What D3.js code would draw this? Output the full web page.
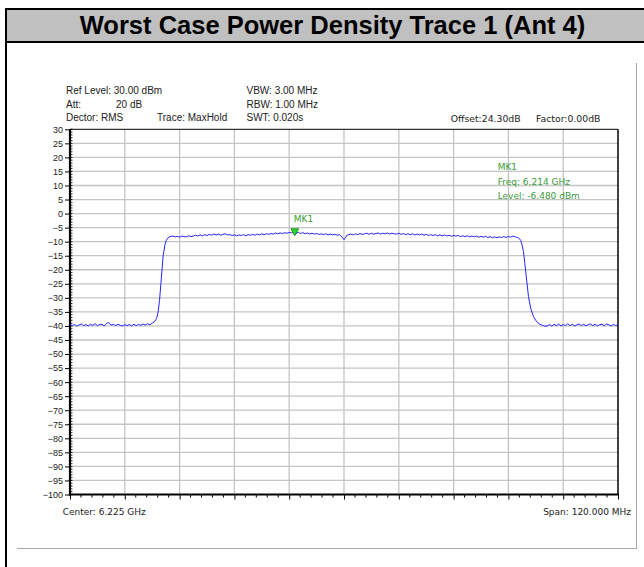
<!DOCTYPE html>
<html>
<head>
<meta charset="utf-8">
<script src="https://cdn.jsdelivr.net/npm/d3@7"></script>
<style>
  html, body { margin: 0; padding: 0; background: #fff; }
  svg { display: block; }
</style>
</head>
<body>
<svg id="chart" width="644" height="567"></svg>
<script>
// ---------------- DATA ----------------
const titleText = "Worst Case Power Density Trace 1 (Ant 4)";
const startMHz = 6165;          // Center 6.225 GHz, span 120 MHz
const stopMHz = 6285;
const yTicks = [30,25,20,15,10,5,0,-5,-10,-15,-20,-25,-30,-35,-40,-45,-50,-55,-60,-65,-70,-75,-80,-85,-90,-95,-100];
const headerLeft = [["Ref Level: 30.00 dBm", null], ["Att:", "20 dB"], ["Dector: RMS", null]];
const headerMid = ["VBW: 3.00 MHz", "RBW: 1.00 MHz", "SWT: 0.020s"];
const traceLabel = "Trace: MaxHold";
const offsetText = "Offset:24.30dB";
const factorText = "Factor:0.00dB";
const centerText = "Center: 6.225 GHz";
const spanText = "Span: 120.000 MHz";
const markerName = "MK1";
const markerFreqMHz = 6214;     // 6.214 GHz
const markerLevel = -6.48;
const markerInfo = ["MK1", "Freq: 6.214 GHz", "Level: -6.480 dBm"];

// sweep sampled every 0.5 MHz (offset from start)
const sweepStep = 0.5;
const leftNoiseStart = 0;
const leftNoise = [-39.4,-39.9,-39.5,-40.1,-39.6,-39.3,-39.9,-39.5,-40.0,-39.4,
  -39.8,-39.2,-39.9,-39.5,-39.4,-40.0,-39.1,-38.8,-39.7,-39.4,
  -39.9,-39.4,-39.8,-40.0,-39.5,-39.9,-39.5,-40.0,-39.4,-39.9,
  -39.4,-39.8,-39.3,-39.7,-39.2,-39.6,-39.0];
const riseEdge = [[18.4,-38.6],[18.8,-37.8],[19.1,-36.5],[19.3,-35.0],[19.6,-31.0],[19.9,-25.0],
  [20.2,-19.0],[20.4,-15.0],[20.8,-11.0],[21.1,-9.5],[21.5,-8.6],[21.9,-8.2]];
const topLeftStart = 22.5;
const topLeft = [-8.0,-8.3,-8.1,-8.4,-8.0,-8.2,-8.3,-7.9,-8.2,-8.0,
  -7.7,-8.0,-7.6,-7.9,-7.5,-7.8,-7.4,-7.7,-7.3,-7.6,
  -7.3,-7.7,-7.4,-7.2,-7.6,-7.5,-7.8,-7.6,-7.9,-7.6,
  -7.8,-7.5,-7.9,-7.5,-7.7,-7.4,-7.7,-7.3,-7.6,-7.2,
  -7.5,-7.2,-7.4,-7.1,-7.3,-6.9,-7.2,-6.9,-7.1,-6.8,
  -7.0,-6.7,-6.9,-6.48,-7.0,-6.7,-7.1,-6.8,-7.2,-6.9,
  -7.3,-7.0,-7.3,-7.1,-7.4,-7.2,-7.5,-7.2,-7.6,-7.3,
  -7.6,-7.4,-7.7,-7.5];
const centerDip = [[59.4,-8.0],[59.8,-8.9],[60.0,-9.3],[60.3,-8.6],[60.6,-7.8],[61.0,-7.5]];
const topRightStart = 61.5;
const topRight = [-7.3,-7.6,-7.2,-7.5,-7.1,-7.4,-7.2,-7.0,-7.4,-7.0,
  -7.3,-7.1,-6.9,-7.3,-7.0,-7.2,-6.9,-7.3,-7.0,-7.2,
  -7.3,-7.0,-7.4,-7.1,-7.5,-7.2,-7.5,-7.2,-7.6,-7.3,
  -7.6,-7.3,-7.7,-7.4,-7.8,-7.5,-7.8,-7.5,-7.9,-7.6,
  -7.9,-7.6,-8.0,-7.7,-8.1,-7.8,-8.0,-7.8,-8.2,-7.9,
  -8.2,-7.9,-8.3,-8.0,-8.3,-8.0,-8.4,-8.1,-8.4,-8.1,
  -8.5,-8.2,-8.6,-8.3,-8.6,-8.3,-8.5,-8.2,-8.5,-8.1,
  -8.4,-8.0,-8.3,-8.5];
const fallEdge = [[98.4,-8.9],[98.7,-9.6],[99.0,-11.2],[99.3,-13.5],[99.6,-17.7],[100.0,-23.7],
  [100.4,-29.6],[100.9,-33.8],[101.5,-36.7],[102.2,-38.5],[102.9,-39.4],[103.5,-39.8],[104.0,-40.1]];
const rightNoiseStart = 104.5;
const rightNoise = [-40.0,-39.5,-40.1,-39.4,-39.9,-39.3,-40.0,-39.5,-39.9,-39.2,
  -39.9,-39.4,-40.0,-39.6,-39.3,-39.9,-39.4,-40.0,-39.5,-39.3,
  -39.9,-39.4,-40.0,-39.5,-39.4,-39.9,-39.3,-39.6,-40.0,-39.4,
  -39.9,-39.5];

// ---------------- BUILD TRACE ----------------
function sweep(start, vals) { return vals.map((v, i) => [start + i * sweepStep, v]); }
const trace = [].concat(
  sweep(leftNoiseStart, leftNoise), riseEdge, sweep(topLeftStart, topLeft),
  centerDip, sweep(topRightStart, topRight), fallEdge, sweep(rightNoiseStart, rightNoise)
).map(d => ({ f: startMHz + d[0], v: d[1] }));

// ---------------- LAYOUT ----------------
const svg = d3.select("#chart");
const L = 70, R = 618, T = 129.3, B = 494.5;
const x = d3.scaleLinear().domain([startMHz, stopMHz]).range([L, R]);
const y = d3.scaleLinear().domain([-100, 30]).range([B, T]);

svg.append("rect").attr("width", 644).attr("height", 567).attr("fill", "#fff");

// outer frame + title bar
svg.append("rect").attr("x", 6).attr("y", 9).attr("width", 640).attr("height", 33).attr("fill", "#c0c0c0");
svg.append("line").attr("x1", 5).attr("x2", 644).attr("y1", 9).attr("y2", 9).attr("stroke", "#000").attr("stroke-width", 2);
svg.append("line").attr("x1", 5).attr("x2", 644).attr("y1", 42).attr("y2", 42).attr("stroke", "#000").attr("stroke-width", 2);
svg.append("line").attr("x1", 6).attr("x2", 6).attr("y1", 8).attr("y2", 567).attr("stroke", "#000").attr("stroke-width", 2);
svg.append("text").attr("x", 332.5).attr("y", 33.5).attr("text-anchor", "middle")
  .attr("font-family", "Liberation Sans, Arial, sans-serif").attr("font-weight", "bold")
  .attr("font-size", "25.5px").attr("fill", "#000").text(titleText);

// gray panel frame lines
svg.append("line").attr("x1", 636.5).attr("x2", 636.5).attr("y1", 63).attr("y2", 549).attr("stroke", "#a8a8a8").attr("stroke-width", 1);
svg.append("line").attr("x1", 17).attr("x2", 637).attr("y1", 548.5).attr("y2", 548.5).attr("stroke", "#a8a8a8").attr("stroke-width", 1);

// header texts
const hdrFont = "Liberation Sans, Arial, sans-serif";
const rowsY = [94, 107.5, 121];
headerLeft.forEach((r, i) => {
  svg.append("text").attr("x", 66).attr("y", rowsY[i]).attr("font-family", hdrFont).attr("font-size", "10px").attr("fill", "#222").text(r[0]);
  if (r[1]) svg.append("text").attr("x", 116).attr("y", rowsY[i]).attr("font-family", hdrFont).attr("font-size", "10px").attr("fill", "#222").text(r[1]);
});
svg.append("text").attr("x", 157).attr("y", rowsY[2]).attr("font-family", hdrFont).attr("font-size", "10px").attr("fill", "#222").text(traceLabel);
headerMid.forEach((t, i) => {
  svg.append("text").attr("x", 246.5).attr("y", rowsY[i]).attr("font-family", hdrFont).attr("font-size", "10px").attr("fill", "#222").text(t);
});
const smallFont = "DejaVu Sans, Verdana, sans-serif";
svg.append("text").attr("x", 450.7).attr("y", 121.5).attr("font-family", smallFont).attr("font-size", "9.3px").attr("fill", "#222").text(offsetText);
svg.append("text").attr("x", 536).attr("y", 121.5).attr("font-family", smallFont).attr("font-size", "9.3px").attr("fill", "#222").text(factorText);

// grid
const grid = svg.append("g");
grid.selectAll("line.h").data(yTicks.filter(t => t > -100 && t < 30)).join("line")
  .attr("x1", L).attr("x2", R).attr("y1", d => y(d)).attr("y2", d => y(d))
  .attr("stroke", "#c4c4c4").attr("stroke-width", 1.3);
const xMajor = d3.range(1, 10).map(i => startMHz + i * 12);
grid.selectAll("line.v").data(xMajor).join("line")
  .attr("x1", d => x(d)).attr("x2", d => x(d)).attr("y1", T).attr("y2", B)
  .attr("stroke", "#c4c4c4").attr("stroke-width", 1.3);

// plot border
svg.append("line").attr("x1", L).attr("x2", R).attr("y1", T).attr("y2", T).attr("stroke", "#000").attr("stroke-width", 1);
svg.append("line").attr("x1", R).attr("x2", R).attr("y1", T).attr("y2", B).attr("stroke", "#000").attr("stroke-width", 1.5);

// y axis
const yAxis = d3.axisLeft(y).tickValues(yTicks).tickSize(5).tickPadding(2).tickFormat(d3.format("d"));
const gy = svg.append("g").attr("transform", `translate(${L},0)`).call(yAxis);
gy.select(".domain").remove();
gy.selectAll("text").attr("font-family", hdrFont).attr("font-size", "9px").attr("fill", "#222");
gy.selectAll("line").attr("stroke", "#000");
const yMinor = d3.range(-100, 31, 1);
svg.append("g").selectAll("line").data(yMinor).join("line")
  .attr("x1", L).attr("x2", L + 2.5).attr("y1", d => y(d)).attr("y2", d => y(d))
  .attr("stroke", "#000").attr("stroke-width", 0.8);
svg.append("line").attr("x1", L).attr("x2", L).attr("y1", T).attr("y2", B + 1).attr("stroke", "#000").attr("stroke-width", 2.2);

// x axis (ticks only)
const xAxis = d3.axisBottom(x).tickValues(d3.range(0, 11).map(i => startMHz + i * 12)).tickSize(5).tickFormat("");
const gx = svg.append("g").attr("transform", `translate(0,${B})`).call(xAxis);
gx.select(".domain").remove();
gx.selectAll("line").attr("stroke", "#000");
const xMinor = d3.range(0, 51).map(i => startMHz + i * 2.4).filter((d, i) => i % 5 !== 0);
svg.append("g").selectAll("line").data(xMinor).join("line")
  .attr("x1", d => x(d)).attr("x2", d => x(d)).attr("y1", B).attr("y2", B + 3)
  .attr("stroke", "#000").attr("stroke-width", 1);
svg.append("line").attr("x1", L - 1).attr("x2", R + 1).attr("y1", B).attr("y2", B).attr("stroke", "#000").attr("stroke-width", 2);

svg.append("text").attr("x", 62.7).attr("y", 514.5).attr("font-family", smallFont).attr("font-size", "9px").attr("fill", "#222").text(centerText);
svg.append("text").attr("x", 631).attr("y", 514.5).attr("text-anchor", "end").attr("font-family", smallFont).attr("font-size", "9px").attr("fill", "#222").text(spanText);

// trace
svg.append("clipPath").attr("id", "clip").append("rect").attr("x", L).attr("y", T).attr("width", R - L).attr("height", B - T);
const line = d3.line().x(d => x(d.f)).y(d => y(d.v));
svg.append("path").datum(trace).attr("d", line).attr("clip-path", "url(#clip)")
  .attr("fill", "none").attr("stroke", "#2424ff").attr("stroke-width", 1).attr("stroke-linejoin", "round");

// marker
const mx = x(markerFreqMHz) + 1, my = y(markerLevel);
svg.append("path").attr("d", `M${mx - 3.8},${my - 3} L${mx + 3.8},${my - 3} L${mx},${my + 4} Z`)
  .attr("fill", "#22dd22").attr("stroke", "#117711").attr("stroke-width", 0.8);
svg.append("text").attr("x", mx - 1).attr("y", my - 9.5).attr("font-family", smallFont).attr("font-size", "9px").attr("fill", "#3a9a3a").text(markerName);
markerInfo.forEach((t, i) => {
  svg.append("text").attr("x", 497.7).attr("y", 170 + i * 14.5).attr("font-family", smallFont).attr("font-size", "9px").attr("fill", "#3a9a3a").text(t);
});
</script>
</body>
</html>
